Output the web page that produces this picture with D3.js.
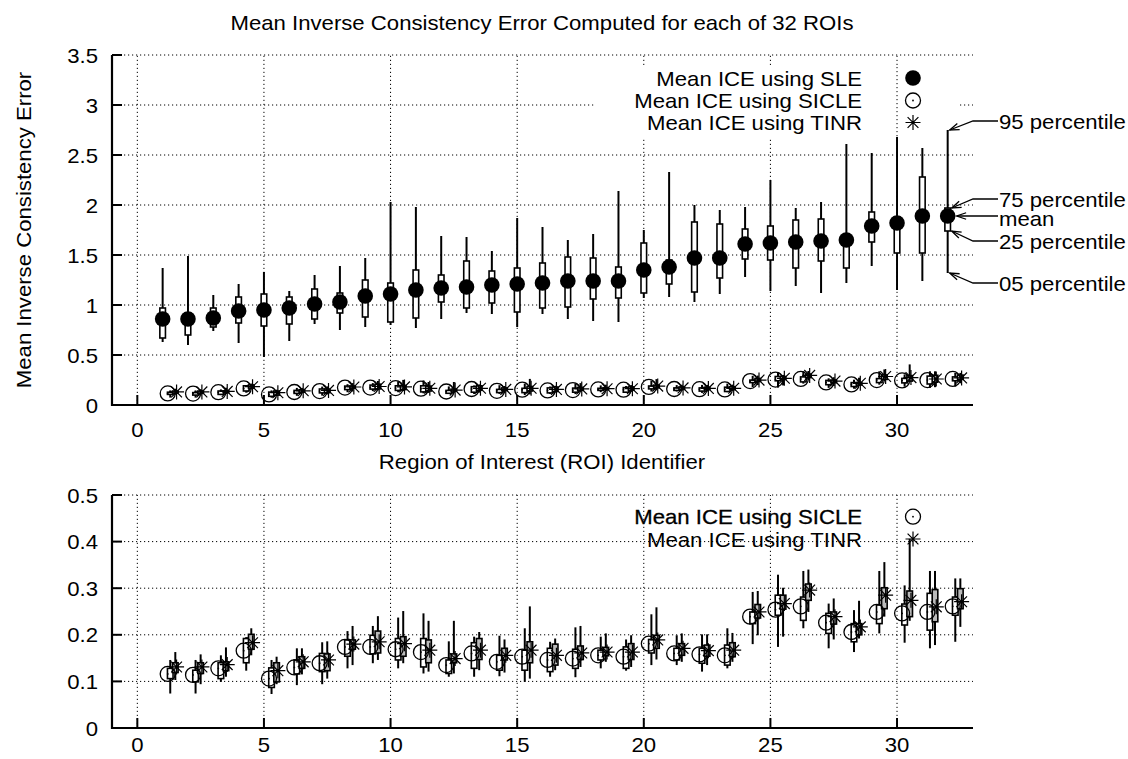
<!DOCTYPE html>
<html>
<head>
<meta charset="utf-8">
<script src="https://cdn.jsdelivr.net/npm/d3@7"></script>
<style>
  body { margin: 0; background: #fff; }
  text { font-family: "Liberation Sans", Arial, Helvetica, sans-serif; font-size: 21px; fill: #000; }
</style>
</head>
<body>
<svg id="chart" width="1128" height="759"></svg>
<script>
// ROI identifiers
const roi = [1,2,3,4,5,6,7,8,9,10,11,12,13,14,15,16,17,18,19,20,21,22,23,24,25,26,27,28,29,30,31,32];

// SLE: mean, 25/75 percentile, 05/95 percentile
const sleMean = [0.86,0.86,0.87,0.94,0.95,0.97,1.01,1.03,1.09,1.11,1.15,1.17,1.18,1.20,1.21,1.22,1.24,1.24,1.24,1.35,1.38,1.47,1.47,1.61,1.62,1.63,1.64,1.65,1.79,1.82,1.89,1.89];
const sleP25  = [0.67,0.70,0.78,0.82,0.79,0.81,0.86,0.92,0.88,0.83,0.87,1.03,0.97,1.02,0.93,0.97,0.98,1.06,1.07,1.12,1.21,1.13,1.27,1.46,1.45,1.37,1.44,1.37,1.63,1.52,1.52,1.74];
const sleP75  = [0.97,0.92,0.97,1.08,1.11,1.08,1.16,1.12,1.25,1.22,1.35,1.30,1.44,1.34,1.37,1.42,1.48,1.47,1.38,1.62,1.45,1.83,1.81,1.76,1.79,1.85,1.86,1.70,1.93,1.88,2.28,1.97];
const sleP05  = [0.63,0.60,0.74,0.62,0.48,0.64,0.81,0.75,0.78,0.80,0.77,0.86,0.92,0.91,0.78,0.91,0.86,0.84,0.83,1.07,1.08,1.03,1.11,1.28,1.14,1.19,1.12,1.22,1.39,1.15,1.24,1.32];
const sleP95  = [1.37,1.49,1.10,1.21,1.33,1.14,1.30,1.39,1.47,2.03,1.98,1.69,1.68,1.54,1.87,1.78,1.65,1.71,2.14,1.75,2.33,2.00,1.95,1.98,2.25,1.97,2.03,2.61,2.52,2.68,2.57,2.75];

// SICLE
const sicleMean = [0.116,0.114,0.128,0.166,0.106,0.130,0.139,0.174,0.174,0.169,0.163,0.135,0.160,0.142,0.153,0.146,0.149,0.156,0.153,0.181,0.160,0.158,0.156,0.239,0.254,0.261,0.226,0.206,0.249,0.246,0.249,0.261];
const sicleP25  = [0.106,0.099,0.106,0.140,0.087,0.116,0.121,0.154,0.159,0.146,0.131,0.117,0.128,0.124,0.124,0.121,0.128,0.146,0.128,0.161,0.146,0.139,0.135,0.224,0.242,0.231,0.203,0.185,0.224,0.221,0.210,0.242];
const sicleP75  = [0.128,0.124,0.140,0.192,0.129,0.146,0.160,0.189,0.199,0.192,0.192,0.146,0.183,0.156,0.167,0.171,0.169,0.167,0.174,0.190,0.171,0.171,0.178,0.249,0.285,0.281,0.246,0.224,0.264,0.266,0.289,0.281];
const sicleP05  = [0.074,0.074,0.099,0.123,0.073,0.092,0.094,0.128,0.139,0.128,0.117,0.110,0.110,0.111,0.099,0.110,0.109,0.128,0.123,0.135,0.135,0.121,0.128,0.180,0.174,0.214,0.171,0.163,0.203,0.183,0.171,0.185];
const sicleP95  = [0.146,0.146,0.156,0.195,0.146,0.171,0.184,0.208,0.219,0.237,0.246,0.186,0.196,0.198,0.214,0.185,0.216,0.196,0.190,0.244,0.199,0.201,0.214,0.292,0.329,0.337,0.267,0.253,0.337,0.306,0.337,0.321];

// TINR
const tinrMean = [0.131,0.131,0.136,0.183,0.123,0.142,0.146,0.180,0.185,0.181,0.167,0.149,0.167,0.156,0.167,0.156,0.161,0.163,0.163,0.189,0.171,0.166,0.167,0.249,0.267,0.296,0.239,0.217,0.285,0.274,0.260,0.271];
const tinrP25  = [0.119,0.117,0.123,0.169,0.099,0.128,0.123,0.169,0.161,0.154,0.140,0.140,0.147,0.146,0.140,0.135,0.147,0.155,0.147,0.171,0.156,0.154,0.153,0.236,0.255,0.274,0.223,0.200,0.256,0.239,0.228,0.256];
const tinrP75  = [0.140,0.140,0.142,0.201,0.140,0.153,0.159,0.189,0.208,0.196,0.189,0.159,0.192,0.171,0.185,0.180,0.176,0.173,0.181,0.199,0.181,0.178,0.183,0.265,0.285,0.309,0.249,0.224,0.301,0.294,0.297,0.299];
const tinrP05  = [0.103,0.094,0.110,0.156,0.094,0.115,0.106,0.135,0.146,0.139,0.121,0.117,0.124,0.119,0.106,0.124,0.131,0.142,0.131,0.147,0.142,0.135,0.142,0.199,0.196,0.249,0.190,0.192,0.239,0.230,0.178,0.217];
const tinrP95  = [0.163,0.158,0.173,0.214,0.153,0.171,0.186,0.219,0.240,0.251,0.230,0.230,0.206,0.190,0.261,0.192,0.219,0.203,0.199,0.259,0.203,0.201,0.204,0.294,0.301,0.340,0.278,0.273,0.356,0.406,0.337,0.321];

const xTicks = [0,5,10,15,20,25,30];
const yTicksTop = [0,0.5,1,1.5,2,2.5,3,3.5];
const yTicksBottom = [0,0.1,0.2,0.3,0.4,0.5];

const title = "Mean Inverse Consistency Error Computed for each of 32 ROIs";
const yTitle = "Mean Inverse Consistency Error";
const xTitle = "Region of Interest (ROI) Identifier";
const legendTop = ["Mean ICE using SLE", "Mean ICE using SICLE", "Mean ICE using TINR"];
const legendBottom = ["Mean ICE using SICLE", "Mean ICE using TINR"];
const noteLabels = ["95 percentile", "75 percentile", "mean", "25 percentile", "05 percentile"];

function rows(mean, p25, p75, p05, p95) {
    return roi.map((r, i) => ({ r, mean: mean[i], p25: p25[i], p75: p75[i], p05: p05[i], p95: p95[i] }));
}
const sle = rows(sleMean, sleP25, sleP75, sleP05, sleP95);
const sicle = rows(sicleMean, sicleP25, sicleP75, sicleP05, sicleP95);
const tinr = rows(tinrMean, tinrP25, tinrP75, tinrP05, tinrP95);

const svg = d3.select("#chart");
const left = 112, right = 973;
const x = d3.scaleLinear().domain([-1, 33]).range([left, right]);
const yTop = d3.scaleLinear().domain([0, 3.5]).range([405, 55]);
const yBot = d3.scaleLinear().domain([0, 0.5]).range([728, 495]);
const dots = "1.2,2.8";

// grid, axes and tick labels for one panel
function panel(y, ticks, labelBase) {
    const g = svg.append("g");
    const [y0, y1] = y.range();
    g.selectAll("line.hgrid").data(ticks.filter(d => d > 0)).enter().append("line")
        .attr("x1", left).attr("x2", right)
        .attr("y1", d => y(d)).attr("y2", d => y(d))
        .attr("stroke", "#000").attr("stroke-width", 1).attr("stroke-dasharray", dots);
    g.selectAll("line.vgrid").data(xTicks).enter().append("line")
        .attr("x1", d => x(d)).attr("x2", d => x(d))
        .attr("y1", y0).attr("y2", y1)
        .attr("stroke", "#000").attr("stroke-width", 1).attr("stroke-dasharray", dots);
    // inward ticks
    g.selectAll("line.yt").data(ticks).enter().append("line")
        .attr("x1", left).attr("x2", left + 10)
        .attr("y1", d => y(d)).attr("y2", d => y(d))
        .attr("stroke", "#000").attr("stroke-width", 2);
    g.selectAll("line.xt").data(xTicks).enter().append("line")
        .attr("x1", d => x(d)).attr("x2", d => x(d))
        .attr("y1", y0).attr("y2", y0 - 10)
        .attr("stroke", "#000").attr("stroke-width", 2);
    g.append("path")
        .attr("d", `M${left},${y1}V${y0}H${right}`)
        .attr("fill", "none").attr("stroke", "#000").attr("stroke-width", 2.2);
    g.selectAll("text.yl").data(ticks).enter().append("text")
        .attr("x", 98).attr("y", d => y(d) + 7.5)
        .attr("text-anchor", "end").text(d => String(d));
    g.selectAll("text.xl").data(xTicks).enter().append("text")
        .attr("x", d => x(d)).attr("y", labelBase)
        .attr("text-anchor", "middle").text(d => d);
    return g;
}

function boxes(g, data, y, dx, fill) {
    g.selectAll(null).data(data).enter().append("line")
        .attr("x1", d => x(d.r + dx)).attr("x2", d => x(d.r + dx))
        .attr("y1", d => y(d.p05)).attr("y2", d => y(d.p95))
        .attr("stroke", "#000").attr("stroke-width", 2);
    g.selectAll(null).data(data).enter().append("rect")
        .attr("x", d => x(d.r + dx) - 2.8).attr("width", 5.6)
        .attr("y", d => y(d.p75)).attr("height", d => y(d.p25) - y(d.p75))
        .attr("fill", fill).attr("stroke", "#000").attr("stroke-width", 1.6);
}

function openCircle(g, cx, cy) {
    g.append("circle").attr("cx", cx).attr("cy", cy).attr("r", 7.5)
        .attr("fill", "none").attr("stroke", "#000").attr("stroke-width", 1.3);
    g.append("circle").attr("cx", cx).attr("cy", cy).attr("r", 0.9).attr("fill", "#000");
}

function star(g, cx, cy) {
    const s = 7.5, t = s * 0.72;
    g.append("path")
        .attr("d", `M${cx - s},${cy}H${cx + s}M${cx},${cy - s}V${cy + s}` +
                   `M${cx - t},${cy - t}L${cx + t},${cy + t}M${cx - t},${cy + t}L${cx + t},${cy - t}`)
        .attr("fill", "none").attr("stroke", "#000").attr("stroke-width", 1.2);
}

// ---------- top panel ----------
const gTop = panel(yTop, yTicksTop, 437);

// legend background hides the grid behind the labels (except the x=30 grid line)
gTop.append("rect").attr("x", 594).attr("y", 67).attr("width", 366).attr("height", 70).attr("fill", "#fff");
gTop.append("line").attr("x1", x(30)).attr("x2", x(30)).attr("y1", 67).attr("y2", 137)
    .attr("stroke", "#000").attr("stroke-width", 1).attr("stroke-dasharray", dots);

const dTop = svg.append("g");
boxes(dTop, sicle, yTop, 0.3, "#fff");
boxes(dTop, tinr, yTop, 0.5, "#fff");
sicle.forEach(d => openCircle(dTop, x(d.r + 0.2), yTop(d.mean)));
tinr.forEach(d => star(dTop, x(d.r + 0.55), yTop(d.mean)));
boxes(dTop, sle, yTop, 0, "#fff");
dTop.selectAll(null).data(sle).enter().append("circle")
    .attr("cx", d => x(d.r)).attr("cy", d => yTop(d.mean)).attr("r", 7.8).attr("fill", "#000");

// legend
const legY = [78, 100.5, 122.5];
legendTop.forEach((t, i) => {
    svg.append("text").attr("x", 862).attr("y", legY[i] + 7.5).attr("text-anchor", "end").text(t);
});
svg.append("circle").attr("cx", 913).attr("cy", legY[0]).attr("r", 7.8).attr("fill", "#000");
openCircle(svg, 913, legY[1]);
star(svg, 913, legY[2]);

// percentile annotation on the last ROI
const last = sle[sle.length - 1];
const noteY = [121, 199, yTop(last.mean), 241, 283];
const noteVal = [last.p95, last.p75, last.mean, last.p25, last.p05];
const noteTipDx = [2, 4, 9, 4, 2];
const gNote = svg.append("g").attr("stroke", "#000").attr("stroke-width", 1.3).attr("fill", "none");
noteLabels.forEach((t, i) => {
    const tx = x(last.r) + noteTipDx[i], ty = yTop(noteVal[i]);
    const sx = i === 2 ? 998 : 973;
    gNote.append("path").attr("d", `M998,${noteY[i]}H${sx}L${tx},${ty}`);
    const a = Math.atan2(ty - noteY[i], tx - sx), L = 10, f = 0.33;
    gNote.append("path").attr("d",
        `M${tx - L * Math.cos(a - f)},${ty - L * Math.sin(a - f)}L${tx},${ty}L${tx - L * Math.cos(a + f)},${ty - L * Math.sin(a + f)}`);
    svg.append("text").attr("x", 999).attr("y", noteY[i] + (i === 2 ? 10 : 7.5)).text(t);
});

// ---------- bottom panel ----------
const gBot = panel(yBot, yTicksBottom, 752);
const dBot = svg.append("g");
boxes(dBot, sicle, yBot, 0.3, "#fff");
boxes(dBot, tinr, yBot, 0.5, "#bbb");
sicle.forEach(d => openCircle(dBot, x(d.r + 0.2), yBot(d.mean)));
tinr.forEach(d => star(dBot, x(d.r + 0.55), yBot(d.mean)));

const legYb = [516.7, 539];
legendBottom.forEach((t, i) => {
    const el = svg.append("text").attr("x", 862).attr("y", legYb[i] + 7.5).attr("text-anchor", "end").text(t);
    if (i === 0) el.attr("stroke", "#000").attr("stroke-width", 0.3);
});
openCircle(svg, 913, legYb[0]);
star(svg, 913, legYb[1]);

// ---------- titles ----------
svg.append("text").attr("x", 542).attr("y", 30).attr("text-anchor", "middle").text(title);
svg.append("text").attr("x", 542).attr("y", 469).attr("text-anchor", "middle").text(xTitle);
svg.append("text").attr("transform", "translate(31,230) rotate(-90)").attr("text-anchor", "middle").text(yTitle);

// the reference lettering is a little wider than the font: stretch it slightly
svg.selectAll("text").each(function () {
    const len = this.getComputedTextLength();
    d3.select(this).attr("textLength", len * 1.055).attr("lengthAdjust", "spacingAndGlyphs");
});
</script>
</body>
</html>
